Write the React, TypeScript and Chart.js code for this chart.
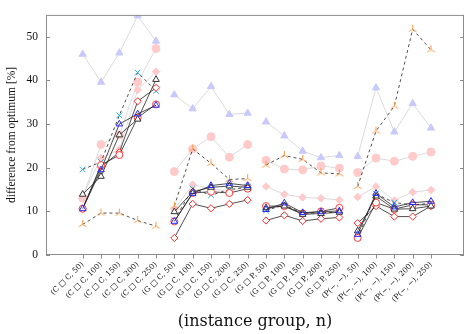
import React, { useEffect, useRef } from "react";
import { Chart, registerables } from "chart.js";

Chart.register(...registerables);

const categories = [
  "(C □ C, 50)", "(C □ C, 100)", "(C □ C, 150)", "(C □ C, 200)", "(C □ C, 250)",
  "(G □ C, 50)", "(G □ C, 100)", "(G □ C, 150)", "(G □ C, 200)", "(G □ C, 250)",
  "(G □ P, 50)", "(G □ P, 100)", "(G □ P, 150)", "(G □ P, 200)", "(G □ P, 250)",
  "(P(−, −), 50)", "(P(−, −), 100)", "(P(−, −), 150)", "(P(−, −), 200)", "(P(−, −), 250)",
];
const yTicks = [0, 10, 20, 30, 40, 50];

const lavTri = [46.0, 39.6, 46.3, 54.8, 49.0, 36.7, 33.5, 38.6, 32.2, 32.5, 30.5, 27.3, 23.8, 22.3, 22.8, 22.6, 38.3, 28.2, 34.7, 29.1];
const pinkCircle = [13.0, 25.3, 27.5, 39.6, 47.3, 19.1, 24.3, 27.1, 22.4, 25.3, 21.7, 19.7, 19.5, 20.4, 19.9, 18.9, 22.2, 21.5, 22.6, 23.6];
const pinkDiamond = [13.5, 22.2, 24.2, 37.8, 42.0, 10.5, 16.1, 15.2, 14.5, 16.0, 15.7, 13.9, 13.2, 13.0, 12.6, 13.3, 15.7, 12.5, 14.4, 14.9];
const orangeStar = [7.0, 9.6, 9.6, 7.9, 6.6, 11.2, 24.3, 21.0, 17.3, 17.5, 20.6, 22.8, 21.9, 18.8, 18.6, 15.7, 28.4, 34.1, 51.7, 47.0];
const cyanCross = [19.6, 21.3, 32.0, 41.8, 37.6, 8.0, 15.2, 13.7, 15.0, 15.5, 10.2, 11.5, 9.5, 9.7, 9.8, 3.9, 14.0, 12.0, 11.5, 11.8];
const redDiamond = [10.6, 20.2, 23.5, 35.2, 38.3, 3.9, 11.7, 10.7, 11.7, 12.6, 7.9, 9.1, 7.8, 8.3, 8.6, 7.3, 11.2, 8.8, 8.8, 11.2];
const redCircle = [10.6, 20.6, 22.9, 31.5, 34.5, 7.7, 14.2, 14.5, 14.2, 15.2, 11.2, 11.2, 9.5, 10.0, 10.8, 3.9, 12.0, 10.5, 11.5, 11.5];
const blackTri = [13.9, 18.0, 27.5, 31.1, 40.2, 9.9, 14.5, 15.5, 15.8, 15.5, 10.8, 11.2, 9.3, 9.5, 9.8, 5.5, 13.5, 10.5, 10.6, 11.2];
const blueTri = [10.6, 19.5, 30.0, 32.3, 34.3, 7.7, 14.1, 15.9, 16.4, 15.9, 10.4, 11.9, 9.7, 9.9, 10.1, 4.7, 14.1, 11.0, 12.0, 12.3];

const GROUP = 5;

function toPoints(vals: number[]) {
  const pts: { x: number; y: number | null }[] = [];
  vals.forEach((v, i) => {
    if (i > 0 && i % GROUP === 0) pts.push({ x: i - 0.5, y: null });
    pts.push({ x: i, y: v });
  });
  return pts;
}

function makeTriStar(color: string) {
  const c = document.createElement("canvas");
  c.width = 11;
  c.height = 11;
  const g = c.getContext("2d")!;
  g.strokeStyle = color;
  g.lineWidth = 1;
  const cx = 5.5, cy = 5.5, r = 4.5;
  [-90, 30, 150].forEach((a) => {
    const rad = (a * Math.PI) / 180;
    g.beginPath();
    g.moveTo(cx, cy);
    g.lineTo(cx + r * Math.cos(rad), cy + r * Math.sin(rad));
    g.stroke();
  });
  return c;
}

const SERIF = "'DejaVu Serif', 'Liberation Serif', serif";
const SERIF2 = "'Liberation Serif', 'DejaVu Serif', serif";

export default function App() {
  const ref = useRef<HTMLCanvasElement | null>(null);
  useEffect(() => {
    if (!ref.current) return;
    const grayLine = "#d2d2d2";
    const star = makeTriStar("#ff9a4a");
    const specs: any[] = [
      { data: lavTri, line: grayLine, dash: [], style: "triangle", pb: "#c9c9fb", pf: "#c9c9fb", r: 4.2 },
      { data: pinkCircle, line: grayLine, dash: [], style: "circle", pb: "#ffcaca", pf: "#ffcaca", r: 4 },
      { data: pinkDiamond, line: grayLine, dash: [], style: "rectRot", pb: "#ffcaca", pf: "#ffcaca", r: 3.8 },
      { data: orangeStar, line: "#222", dash: [3, 3], style: star, pb: "#ff9a4a", pf: "#ff9a4a", r: 5 },
      { data: cyanCross, line: "#222", dash: [3, 3], style: "crossRot", pb: "#22b0ee", pf: "#22b0ee", r: 4 },
      { data: redDiamond, line: "#222", dash: [], style: "rectRot", pb: "#ff2a2a", pf: "#ffffff", r: 3.6 },
      { data: redCircle, line: "#222", dash: [], style: "circle", pb: "#ff3b3b", pf: "#ffffff", r: 3.5 },
      { data: blackTri, line: "#222", dash: [], style: "triangle", pb: "#333333", pf: "#ffffff", r: 3.8 },
      { data: blueTri, line: "#222", dash: [], style: "triangle", pb: "#2a2aff", pf: "rgba(255,255,255,0)", r: 3.8 },
    ];
    const n = specs.length;
    const datasets = specs.map((s, i) => ({
      data: toPoints(s.data),
      borderColor: s.line,
      borderWidth: 0.8,
      borderDash: s.dash,
      pointStyle: s.style,
      pointBorderColor: s.pb,
      pointBackgroundColor: s.pf,
      pointBorderWidth: 1,
      pointRadius: s.r,
      fill: false,
      spanGaps: false,
      tension: 0,
      order: n - i,
    }));

    const frame = {
      id: "frame",
      afterDraw(chart: any) {
        const { ctx, chartArea } = chart;
        const { left, right, top, bottom } = chartArea;
        const ys = chart.scales.y;
        const xs = chart.scales.x;
        ctx.save();
        ctx.strokeStyle = "#8c8c8c";
        ctx.lineWidth = 1;
        ctx.strokeRect(left + 0.5, top + 0.5, right - left - 1, bottom - top - 1);
        ctx.beginPath();
        yTicks.forEach((v) => {
          const py = Math.round(ys.getPixelForValue(v)) + 0.5;
          ctx.moveTo(left, py);
          ctx.lineTo(left + 4, py);
          ctx.moveTo(right - 4, py);
          ctx.lineTo(right, py);
        });
        categories.forEach((_, i) => {
          const px = Math.round(xs.getPixelForValue(i)) + 0.5;
          ctx.moveTo(px, bottom);
          ctx.lineTo(px, bottom + 3.5);
        });
        ctx.stroke();
        ctx.restore();
      },
    };

    const chart = new Chart(ref.current, {
      type: "line",
      data: { datasets },
      options: {
        animation: false,
        responsive: false,
        maintainAspectRatio: false,
        layout: { padding: { top: 2, right: 2, left: 0, bottom: 0 } },
        plugins: { legend: { display: false }, tooltip: { enabled: false } },
        scales: {
          x: {
            type: "linear",
            min: -2,
            max: 20.8,
            grid: { display: false, drawTicks: false },
            border: { display: false },
            afterBuildTicks: (scale: any) => {
              scale.ticks = categories.map((_, i) => ({ value: i }));
            },
            afterFit: (scale: any) => {
              scale.height = 79;
            },
            ticks: {
              autoSkip: false,
              minRotation: 45,
              maxRotation: 45,
              padding: 5,
              color: "#111",
              font: { family: SERIF, size: 7.5 },
              callback: (_v: any, idx: number) => categories[idx],
            },
            title: {
              display: true,
              text: "(instance group, n)",
              color: "#111",
              font: { family: SERIF, size: 16 },
              padding: { top: 2, bottom: 3 },
            },
          },
          y: {
            type: "linear",
            min: 0,
            max: 55,
            grid: { display: false, drawTicks: false },
            border: { display: false },
            afterBuildTicks: (scale: any) => {
              scale.ticks = yTicks.map((v) => ({ value: v }));
            },
            afterFit: (scale: any) => {
              scale.width = 46;
            },
            ticks: {
              padding: 8,
              color: "#111",
              font: { family: SERIF2, size: 11.5 },
            },
            title: {
              display: true,
              text: "difference from optimum [%]",
              color: "#111",
              font: { family: SERIF2, size: 11.5 },
              padding: { top: 5, bottom: 2 },
            },
          },
        },
      },
      plugins: [frame],
    } as any);
    return () => chart.destroy();
  }, []);

  return (
    <div style={{ position: "fixed", left: 0, top: 0, width: 470, height: 334, background: "#fff" }}>
      <canvas ref={ref} width={470} height={334} style={{ width: 470, height: 334, display: "block" }} />
    </div>
  );
}
